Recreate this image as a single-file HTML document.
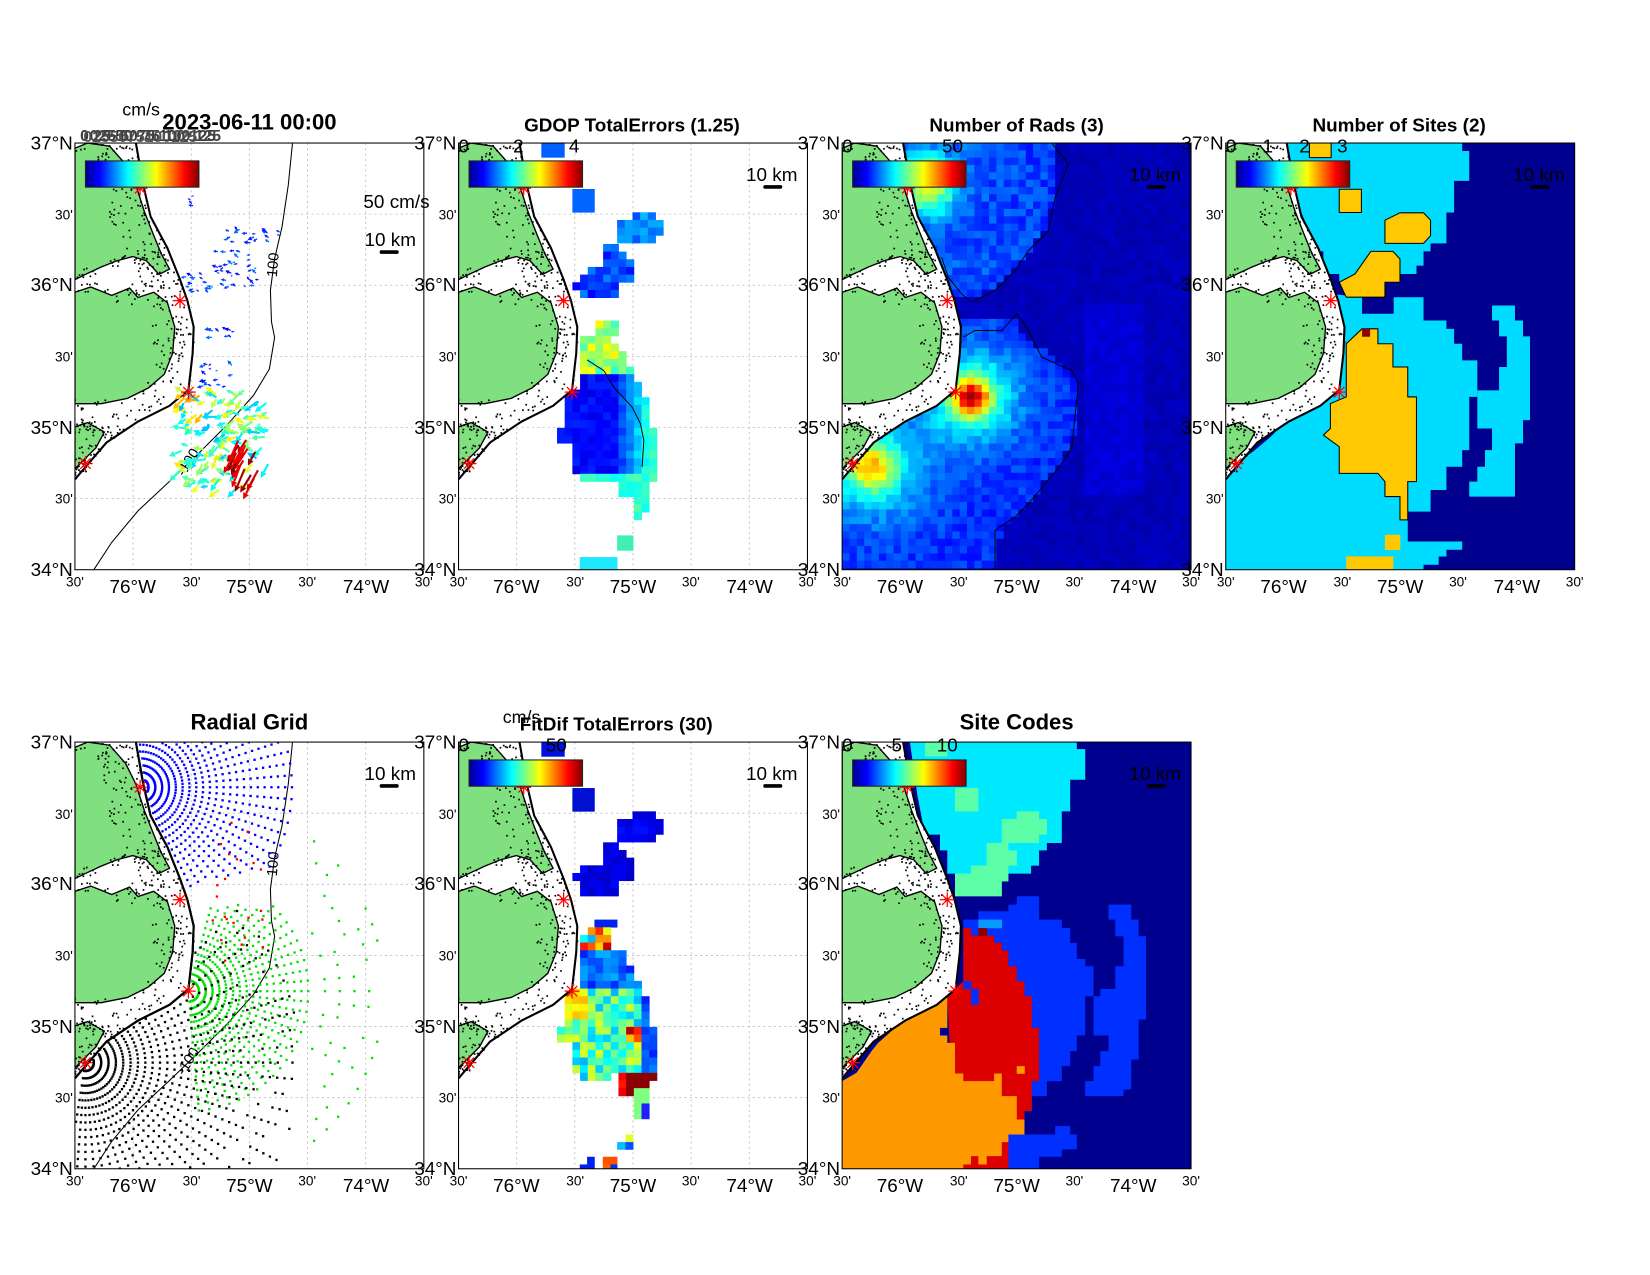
<!DOCTYPE html>
<html><head><meta charset="utf-8"><style>
body{margin:0;background:#fff}svg{display:block}
text{font-family:"Liberation Sans",Arial,sans-serif;fill:#000}
.b{font-size:18px}.s{font-size:13px}.t{font-size:18px;font-weight:bold}.T{font-size:21px;font-weight:bold}
</style></head><body>
<svg id="S" xmlns="http://www.w3.org/2000/svg" width="1650" height="1275" viewBox="-1.3 -1 1570 1213">
<defs>
<linearGradient id="jet" x1="0" x2="1" y1="0" y2="0">
<stop offset="0" stop-color="#00008f"/><stop offset="0.125" stop-color="#0000ff"/><stop offset="0.375" stop-color="#00ffff"/><stop offset="0.625" stop-color="#ffff00"/><stop offset="0.875" stop-color="#ff0000"/><stop offset="1" stop-color="#800000"/>
</linearGradient>
<clipPath id="cp"><rect x="0" y="0" width="332" height="406"/></clipPath>
<g id="ticks">
<text class="b" x="-2" y="6" text-anchor="end">37°N</text>
<text class="s" x="-2" y="73" text-anchor="end">30'</text>
<text class="b" x="-2" y="141" text-anchor="end">36°N</text>
<text class="s" x="-2" y="208" text-anchor="end">30'</text>
<text class="b" x="-2" y="277" text-anchor="end">35°N</text>
<text class="s" x="-2" y="343" text-anchor="end">30'</text>
<text class="b" x="-2" y="412" text-anchor="end">34°N</text>
<text class="s" x="0" y="422" text-anchor="middle">30'</text>
<text class="b" x="55" y="428" text-anchor="middle">76°W</text>
<text class="s" x="111" y="422" text-anchor="middle">30'</text>
<text class="b" x="166" y="428" text-anchor="middle">75°W</text>
<text class="s" x="221" y="422" text-anchor="middle">30'</text>
<text class="b" x="277" y="428" text-anchor="middle">74°W</text>
<text class="s" x="332" y="422" text-anchor="middle">30'</text>
</g>
</defs>
<rect x="-2" y="-2" width="1575" height="1220" fill="#fff"/>

<g transform="translate(70,135)"><g id="d0" clip-path="url(#cp)"></g><rect width="332" height="406" fill="none" stroke="#000"/><use href="#ticks"/>
<text class="b" x="306" y="62" text-anchor="middle">50 cm/s</text><text class="b" x="300" y="98" text-anchor="middle">10 km</text></g>
<g transform="translate(435,135)"><g id="d1" clip-path="url(#cp)"></g><rect width="332" height="406" fill="none" stroke="#000"/><use href="#ticks"/>
<text class="b" x="298" y="36" text-anchor="middle">10 km</text>
<text class="b" x="5" y="9" text-anchor="middle">0</text><text class="b" x="57" y="9" text-anchor="middle">2</text><text class="b" x="110" y="9" text-anchor="middle">4</text></g>
<g transform="translate(800,135)"><g id="d2" clip-path="url(#cp)"></g><rect width="332" height="406" fill="none" stroke="#000"/><use href="#ticks"/>
<text class="b" x="298" y="36" text-anchor="middle">10 km</text>
<text class="b" x="5" y="9" text-anchor="middle">0</text><text class="b" x="105" y="9" text-anchor="middle">50</text></g>
<g transform="translate(1165,135)"><g id="d3" clip-path="url(#cp)"></g><rect width="332" height="406" fill="none" stroke="#000"/><use href="#ticks"/>
<text class="b" x="298" y="36" text-anchor="middle">10 km</text>
<text class="b" x="5" y="9" text-anchor="middle">0</text><text class="b" x="40" y="9" text-anchor="middle">1</text><text class="b" x="75" y="9" text-anchor="middle">2</text><text class="b" x="111" y="9" text-anchor="middle">3</text></g>
<g transform="translate(70,705)"><g id="d4" clip-path="url(#cp)"></g><rect width="332" height="406" fill="none" stroke="#000"/><use href="#ticks"/>
<text class="b" x="300" y="36" text-anchor="middle">10 km</text></g>
<g transform="translate(435,705)"><g id="d5" clip-path="url(#cp)"></g><rect width="332" height="406" fill="none" stroke="#000"/><use href="#ticks"/>
<text class="b" x="298" y="36" text-anchor="middle">10 km</text>
<text class="b" x="5" y="9" text-anchor="middle">0</text><text class="b" x="93" y="9" text-anchor="middle">50</text></g>
<g transform="translate(800,705)"><g id="d6" clip-path="url(#cp)"></g><rect width="332" height="406" fill="none" stroke="#000"/><use href="#ticks"/>
<text class="b" x="298" y="36" text-anchor="middle">10 km</text>
<text class="b" x="5" y="9" text-anchor="middle">0</text><text class="b" x="52" y="9" text-anchor="middle">5</text><text class="b" x="100" y="9" text-anchor="middle">10</text></g>

<text x="133" y="109" style="font-size:17px" text-anchor="middle">cm/s</text>
<g style="font-size:15px;font-weight:bold">
<text x="75" y="133" style="fill:#3a3a3a">0 25 50 75 100 125</text>
<text x="78" y="134" style="fill:#555">0255075100125</text>
<text x="84" y="133" style="fill:#444">025 50 75 100 125</text>
</g>
<text class="T" x="236" y="122" text-anchor="middle">2023-06-11 00:00</text>
<text class="t" x="600" y="124" text-anchor="middle">GDOP TotalErrors (1.25)</text>
<text class="t" x="966" y="124" text-anchor="middle">Number of Rads (3)</text>
<text class="t" x="1330" y="124" text-anchor="middle">Number of Sites (2)</text>
<text class="T" x="236" y="693" text-anchor="middle">Radial Grid</text>
<text x="495" y="687" style="font-size:17px" text-anchor="middle">cm/s</text>
<text class="t" x="585" y="694" text-anchor="middle">FitDif TotalErrors (30)</text>
<text class="T" x="966" y="693" text-anchor="middle">Site Codes</text>
</svg>
<script>
const NS="http://www.w3.org/2000/svg";
function E(t,a,p){const e=document.createElementNS(NS,t);for(const k in a)e.setAttribute(k,a[k]);p.appendChild(e);return e;}
let sd=12345;function R(){sd=(sd*16807)%2147483647;return sd/2147483647;}
function cl(v){return Math.max(0,Math.min(1,v));}
function jet(t){t=cl(t);const r=cl(1.5-Math.abs(4*t-3)),g=cl(1.5-Math.abs(4*t-2)),b=cl(1.5-Math.abs(4*t-1));return "rgb("+(r*255|0)+","+(g*255|0)+","+(b*255|0)+")";}
const CO=[[0,58],[40,65],[70,72],[100,88],[130,100],[150,107],[175,113],[200,112],[235,108],[250,90],[265,60],[285,30],[320,0],[406,-5]];
function cx(y){for(let i=0;i<CO.length-1;i++){const a=CO[i][0],xa=CO[i][1],b=CO[i+1][0],xb=CO[i+1][1];if(y>=a&&y<=b)return xa+(xb-xa)*(y-a)/(b-a);}return -5;}
function pts(a){return a.map(p=>p[0].toFixed(1)+","+p[1].toFixed(1)).join(" ");}
function pip(x,y,P){let c=false;for(let i=0,j=P.length-1;i<P.length;j=i++){const xi=P[i][0],yi=P[i][1],xj=P[j][0],yj=P[j][1];if(((yi>y)!=(yj>y))&&(x<(xj-xi)*(y-yi)/(yj-yi)+xi))c=!c;}return c;}
const MASK=[[0,0]].concat(CO.slice(0,13).map(p=>[p[1],p[0]]));
const GA=[[0,5],[12,0],[33,3],[48,20],[58,40],[66,65],[75,88],[82,105],[90,120],[80,125],[68,112],[55,108],[40,112],[25,118],[10,125],[0,130]];
const GB=[[0,142],[15,137],[35,145],[52,138],[60,147],[75,142],[88,152],[95,175],[93,200],[85,220],[70,233],[50,243],[25,248],[0,248]];
const GC=[[0,270],[12,266],[28,275],[20,290],[5,305],[0,310]];
const BATH=[[207,0],[203,40],[197,80],[190,110],[186,140],[187,170],[190,185],[185,215],[170,240],[145,268],[118,295],[90,322],[60,350],[35,380],[18,406]];
const SITES=[[62,43],[100,150],[108,237],[10,305]];
function grid(g){for(let i=1;i<6;i++){const x=i*332/6;E('line',{x1:x,y1:0,x2:x,y2:406,stroke:'#bbb','stroke-dasharray':'2 3','stroke-width':0.8},g);const y=i*406/6;E('line',{x1:0,y1:y,x2:332,y2:y,stroke:'#bbb','stroke-dasharray':'2 3','stroke-width':0.8},g);}}
function land(g){
 E('polygon',{points:pts(MASK),fill:'#fff'},g);
 for(const P of [GA,GB,GC])E('polygon',{points:pts(P),fill:'#80e080',stroke:'#000','stroke-width':1.3},g);
 sd=999;for(let i=0;i<260;i++){const y=R()*320;const x=cx(y)-R()*40;if(x>0)E('rect',{x:x,y:y,width:1.6,height:1.6,fill:'#000'},g);}
 for(let i=0;i<200;i++){const P=[GA,GB,GC][i%3];const k=Math.floor(R()*P.length);const p=P[k];E('rect',{x:p[0]+(R()-0.5)*14,y:p[1]+(R()-0.5)*14,width:1.6,height:1.6,fill:'#000'},g);}
 E('polyline',{points:pts(CO.slice(0,13).map(p=>[p[1],p[0]])),fill:'none',stroke:'#000','stroke-width':2},g);
}
function stars(g){for(const s of SITES){for(let a=0;a<4;a++){const an=a*Math.PI/4;E('line',{x1:s[0]-7*Math.cos(an),y1:s[1]-7*Math.sin(an),x2:s[0]+7*Math.cos(an),y2:s[1]+7*Math.sin(an),stroke:'#f00','stroke-width':1.2},g);}}}
function cbar(g){E('rect',{x:10,y:17,width:108,height:25,fill:'url(#jet)',stroke:'#222','stroke-width':1},g);E('rect',{x:290,y:102,width:18,height:3.5,rx:1.5,fill:'#000'},g);}
function cbar2(g){E('rect',{x:10,y:17,width:108,height:25,fill:'url(#jet)',stroke:'#222','stroke-width':1},g);E('rect',{x:290,y:40,width:18,height:3.5,rx:1.5,fill:'#000'},g);}
function bath(g){E('polyline',{points:pts(BATH),fill:'none',stroke:'#000','stroke-width':1},g);
 const t1=E('text',{x:0,y:0,transform:'translate(192,128) rotate(-85)',style:'font-size:14px'},g);t1.textContent='100';
 const t2=E('text',{x:0,y:0,transform:'translate(104,318) rotate(-58)',style:'font-size:14px'},g);t2.textContent='-100';}
function Zm(m){return (zx,zy)=>[(zx-m[0])*332/(m[1]-m[0]),(zy-m[2])*406/(m[3]-m[2])];}
function polyZ(g,m,P,fill,stroke){const f=Zm(m);const a={points:pts(P.map(p=>f(p[0],p[1]))),fill:fill};if(stroke){a.stroke=stroke;a['stroke-width']=1;}E('polygon',a,g);}
function rectZ(g,m,r,fill){const f=Zm(m);const a=f(r[0],r[1]),b=f(r[2],r[3]);E('rect',{x:a[0],y:a[1],width:b[0]-a[0]+0.3,height:b[1]-a[1]+0.3,fill:fill},g);}
function cellsZ(g,m,P,cs,fn){const f=Zm(m);let x0=1e9,x1=-1e9,y0=1e9,y1=-1e9;for(const p of P){x0=Math.min(x0,p[0]);x1=Math.max(x1,p[0]);y0=Math.min(y0,p[1]);y1=Math.max(y1,p[1]);}
 for(let y=y0;y<y1;y+=cs)for(let x=x0;x<x1;x+=cs){if(!pip(x+cs/2,y+cs/2,P))continue;const a=f(x,y),b=f(x+cs,y+cs);E('rect',{x:a[0],y:a[1],width:b[0]-a[0]+0.4,height:b[1]-a[1]+0.4,fill:fn(x+cs/2,y+cs/2)},g);}}
const $=id=>document.getElementById(id);

// Panel 0: vectors
(function(){const g=$('d0');grid(g);land(g);bath(g);
 function arrow(x,y,dx,dy,c,w){const L=Math.hypot(dx,dy)||1;const ux=dx/L,uy=dy/L;const hl=Math.min(6,L*0.6);const bx=x+dx-ux*hl,by=y+dy-uy*hl;
  E('line',{x1:x,y1:y,x2:bx,y2:by,stroke:c,'stroke-width':w},g);
  E('polygon',{points:pts([[x+dx,y+dy],[bx-uy*hl*0.5,by+ux*hl*0.5],[bx+uy*hl*0.5,by-ux*hl*0.5]]),fill:c},g);}
 sd=42;
 const small=[[110,48,12,12],[145,82,50,14],[135,102,40,35],[105,125,30,22],[125,175,30,12],[120,210,30,22]];
 for(const b of small){for(let i=0;i<b[2]*b[3]/40;i++){const x=b[0]+R()*b[2],y=b[1]+R()*b[3];const a=Math.PI*(0.8+R()*0.5);const L=2+R()*5;arrow(x,y,L*Math.cos(a),L*Math.sin(a),jet(0.12+R()*0.12),1.2);}}
 for(let i=0;i<140;i++){const x=100+R()*85,y=235+R()*95;if(x>150&&y>285&&R()<0.5)continue;const a=Math.PI*(0.6+R()*0.6);const L=7+R()*9;let t=0.3+R()*0.35;if(y<265&&x<130&&R()<0.4)t=0.65+R()*0.1;arrow(x,y,L*Math.cos(a),L*Math.sin(a),jet(t),2);}
 for(let i=0;i<18;i++){const x=150+R()*28,y=280+R()*40;const a=Math.PI*(0.6+R()*0.1);const L=14+R()*10;arrow(x,y,L*Math.cos(a),L*Math.sin(a),jet(0.88+R()*0.12),2);}
 stars(g);cbar(g);
})();

// Panel 1: GDOP
(function(){const g=$('d1');grid(g);const m=[55,1100,37,1318];sd=7;
 rectZ(g,m,[303,37,372,80],'#0060ff');rectZ(g,m,[396,175,462,245],'#0066ff');
 cellsZ(g,m,[[530,268],[578,268],[578,245],[645,245],[645,268],[668,268],[668,315],[645,315],[645,340],[530,340]],23,()=>jet(0.2+R()*0.12));
 cellsZ(g,m,[[487,340],[530,340],[530,362],[555,362],[555,385],[578,385],[578,455],[530,455],[530,500],[418,500],[418,478],[396,478],[396,455],[418,455],[418,432],[440,432],[440,408],[487,408]],23,()=>jet(0.12+R()*0.14));
 cellsZ(g,m,[[462,570],[530,570],[530,620],[510,620],[510,640],[530,640],[530,665],[555,665],[555,710],[578,710],[578,755],[600,755],[600,800],[623,800],[623,895],[645,895],[645,1050],[623,1050],[623,1075],[623,1100],[623,1145],[600,1145],[600,1168],[578,1168],[578,1100],[530,1100],[530,1050],[418,1050],[396,1005],[396,940],[350,940],[350,895],[372,895],[372,780],[418,780],[418,620],[462,620]],23,(x,y)=>{
  if(y<735){return jet(0.4+R()*0.25);}
  if(y>1030)return jet(0.38+R()*0.08);
  const e=cl((x-520)/110);return jet(0.1+R()*0.06+e*0.3);});
 rectZ(g,m,[530,1215,578,1260],'#40f0b0');rectZ(g,m,[418,1280,530,1318],'#20e8ff');
 E('polyline',{points:pts([[440,688],[490,720],[520,770],[575,830],[600,880],[610,930],[605,1010]].map(p=>Zm(m)(p[0],p[1]))),fill:'none',stroke:'#000','stroke-width':0.9},g);
 land(g);stars(g);cbar2(g);
})();

// Panel 2: Number of rads
(function(){const g=$('d2');E('rect',{width:332,height:406,fill:'#00008f'},g);const m=[42,1087,37,1318];sd=21;
 function ip(pp,y){for(let i=0;i<pp.length-1;i++){if(y>=pp[i][0]&&y<=pp[i+1][0])return pp[i][1]+(pp[i+1][1]-pp[i][1])*(y-pp[i][0])/(pp[i+1][0]-pp[i][0]);}return -1;}
 const NE=[[37,670],[200,680],[300,650],[360,600],[420,555],[480,480],[505,420]];
 const SE=[[560,560],[600,560],[700,700],[750,750],[900,740],[1000,700],[1100,610],[1200,520],[1320,500]];
 cellsZ(g,m,[[42,37],[1087,37],[1087,1318],[42,1318]],22,(x,y)=>{
  let t=0.04+R()*0.03;
  if(x>770&&x<950&&y>530&&y<1100)t=0.07+R()*0.03;
  if(y<505&&x<ip(NE,y)){t=0.13+R()*0.1+0.4*Math.exp(-((x-300)**2+(y-160)**2)/(2*60*60))+0.06*(1-x/700);}
  else if(y>=560&&x<ip(SE,y)){const d1=(x-430)**2+(y-800)**2,d2=(x-130)**2+(y-1010)**2;t=0.13+R()*0.08+0.5*Math.exp(-d1/(2*35*35))+0.32*Math.exp(-d1/(2*95*95))+0.35*Math.exp(-d2/(2*50*50))+0.2*Math.exp(-d2/(2*120*120));}
  return jet(t);});
 const f=Zm(m);
 E('polyline',{points:pts([[670,37],[720,100],[700,150],[680,200],[660,300],[600,360],[560,420],[500,480],[430,515],[400,490],[360,440],[340,380]].map(p=>f(p[0],p[1]))),fill:'none',stroke:'#000','stroke-width':0.9},g);
 E('polyline',{points:pts([[405,620],[440,600],[520,600],[565,550],[600,600],[640,680],[730,720],[750,760],[740,850],[730,950],[700,1000],[650,1060],[600,1120],[560,1160],[500,1200],[500,1320]].map(p=>f(p[0],p[1]))),fill:'none',stroke:'#000','stroke-width':0.9},g);
 land(g);stars(g);cbar2(g);
})();

// Panel 3: Number of sites
(function(){const g=$('d3');E('rect',{width:332,height:406,fill:'#00008f'},g);const m=[362,1355,186,1470];const C='#00dcff',Y='#ffc800';
 polyZ(g,m,[[520,186],[1035,186],[1035,210],[1055,210],[1055,300],[1012,300],[1012,395],[990,395],[990,488],[945,488],[945,512],[925,512],[925,555],[905,555],[905,580],[858,580],[858,605],[815,605],[815,650],[705,650],[705,605],[685,605],[685,580],[640,580],[640,512],[620,512],[610,480],[560,350]],C);
 polyZ(g,m,[[665,640],[750,650],[750,700],[840,700],[840,650],[925,650],[925,720],[990,720],[990,745],[1012,745],[1012,790],[1035,790],[1035,840],[1078,840],[1078,950],[1055,950],[1055,1110],[1035,1110],[1035,1160],[990,1160],[990,1230],[945,1230],[945,1295],[880,1295],[880,1385],[1035,1385],[1035,1410],[990,1410],[990,1430],[968,1430],[968,1455],[925,1455],[925,1470],[355,1470],[355,1180],[445,1110],[490,1070],[555,1000],[600,960],[660,930],[690,900],[690,790]],C);
 polyZ(g,m,[[1120,675],[1185,675],[1185,720],[1208,720],[1208,768],[1228,768],[1228,1020],[1208,1020],[1208,1090],[1185,1090],[1185,1250],[1055,1250],[1055,1205],[1078,1205],[1078,1160],[1100,1160],[1100,1110],[1120,1110],[1120,1045],[1078,1045],[1078,930],[1140,930],[1140,860],[1162,860],[1162,768],[1140,768],[1140,720],[1120,720]],C);
 polyZ(g,m,[[600,186],[662,186],[662,230],[600,230]],Y,'#000');
 polyZ(g,m,[[685,325],[748,325],[748,395],[685,395]],Y,'#000');
 polyZ(g,m,[[815,418],[858,396],[925,396],[945,418],[945,465],[925,488],[815,488]],Y,'#000');
 polyZ(g,m,[[685,605],[730,580],[775,512],[838,512],[858,535],[858,605],[815,605],[815,650],[705,650]],Y,'#000');
 polyZ(g,m,[[705,790],[750,745],[795,745],[795,790],[838,790],[838,860],[880,860],[880,950],[905,950],[905,1205],[880,1205],[880,1320],[858,1320],[858,1250],[815,1250],[815,1205],[795,1180],[685,1180],[685,1100],[640,1065],[660,1045],[660,970],[705,950]],Y,'#000');
 rectZ(g,m,[750,745,772,768],'#900000');
 rectZ(g,m,[815,1365,858,1410],Y);rectZ(g,m,[705,1430,838,1470],Y);
 land(g);stars(g);cbar2(g);
})();

// Panel 4: radial grid
(function(){const g=$('d4');grid(g);land(g);bath(g);
 function arcs(s,col,rmin,rmax,dr,ast,a0,a1,lim){for(let r=rmin;r<=rmax;r+=dr){const st=ast;for(let a=a0;a<=a1;a+=st){const an=a*Math.PI/180;const x=s[0]+r*Math.cos(an),y=s[1]+r*Math.sin(an);if(x<0||y<0||x>332||y>406)continue;if(x<cx(y)+2)continue;if(lim&&!lim(x,y,r))continue;E('rect',{x:x-1.1,y:y-1.1,width:2.2,height:2.2,fill:col},g);}}}
 arcs(SITES[0],'#0000ff',8,150,6.5,4.5,-90,70,(x,y,r)=>y<150-0.25*(x-60)&&x<215);
 arcs(SITES[2],'#00e000',10,120,6.5,5,-75,85,(x,y)=>x<225&&y>155);
 arcs(SITES[2],'#00e000',130,195,14,5,-60,60,(x,y)=>x<290&&x>225&&R()<0.7);
 arcs(SITES[3],'#000',8,210,7,4.5,-45,100,(x,y,r)=>x<210&&(r<150||R()<0.6));
 sd=5;for(let i=0;i<22;i++){E('rect',{x:130+R()*50,y:70+R()*150,width:2.2,height:2.2,fill:'#f00'},g);}
 E('polyline',{points:pts(CO.slice(0,13).map(p=>[p[1],p[0]])),fill:'none',stroke:'#000','stroke-width':2},g);
 stars(g);E('rect',{x:290,y:40,width:18,height:3.5,rx:1.5,fill:'#000'},g);
})();

// Panel 5: FitDif
(function(){const g=$('d5');grid(g);const m=[55,1100,67,1348];sd=77;
 rectZ(g,m,[303,67,372,110],'#0010e0');rectZ(g,m,[396,205,462,275],'#0010d0');
 cellsZ(g,m,[[578,275],[645,275],[645,298],[668,298],[668,345],[645,345],[645,368],[530,368],[530,298],[578,298]],23,()=>jet(0.08+R()*0.06));
 cellsZ(g,m,[[487,368],[530,368],[530,392],[555,392],[555,415],[578,415],[578,485],[530,485],[530,530],[418,530],[418,485],[396,485],[396,462],[418,462],[418,438],[487,438]],23,()=>jet(0.07+R()*0.06));
 rectZ(g,m,[462,600,530,623],'#0020f0');
 cellsZ(g,m,[[440,623],[510,623],[510,693],[555,693],[555,740],[578,740],[578,785],[600,785],[600,830],[623,830],[623,925],[645,925],[645,1085],[623,1085],[623,1200],[578,1200],[578,1130],[530,1130],[530,1062],[510,1062],[510,1085],[418,1085],[396,1040],[396,970],[372,970],[350,945],[350,925],[372,925],[372,808],[418,808],[418,740],[418,650],[440,650]],23,(x,y)=>{
  if(y>1062&&x>555)return (y>1110&&x>578)?(R()<0.5?'#2020ff':'#80ff80'):'#8b0000';
  if(y>1062&&x>530)return jet(0.8+R()*0.15);
  if(y<700)return jet(0.3+R()*0.65);
  if(y<800)return jet(0.15+R()*0.15);
  if(x<440&&y<900)return jet(0.6+R()*0.15);
  if(Math.hypot(x-580,y-945)<35)return jet(0.65+R()*0.3);
  if(x>600)return jet(0.15+R()*0.15);
  return jet(0.3+R()*0.3);});
 rectZ(g,m,[555,1245,578,1268],'#e0ff30');rectZ(g,m,[530,1268,555,1290],'#00c0ff');rectZ(g,m,[555,1268,578,1290],'#0050ff');
 rectZ(g,m,[440,1312,462,1348],'#0020f0');rectZ(g,m,[487,1312,530,1335],'#ff5000');rectZ(g,m,[418,1335,440,1348],'#0020f0');rectZ(g,m,[487,1335,510,1348],'#ff6000');rectZ(g,m,[510,1335,530,1348],'#0030ff');
 land(g);stars(g);cbar2(g);
})();

// Panel 6: site codes
(function(){const g=$('d6');E('rect',{width:332,height:406,fill:'#00008f'},g);const m=[42,1087,67,1348];const B='#0030ff';
 polyZ(g,m,[[245,67],[745,67],[745,88],[770,88],[770,180],[725,180],[725,275],[700,275],[700,370],[655,370],[655,392],[632,392],[632,438],[608,438],[608,462],[540,462],[540,485],[520,485],[520,530],[380,530],[380,462],[357,462],[357,392],[335,392],[335,345],[290,345],[268,230]],'#00eaff');
 const LG='#5cffa8';
 polyZ(g,m,[[290,67],[357,67],[357,110],[290,110]],LG);polyZ(g,m,[[380,205],[450,205],[450,275],[380,275]],LG);
 polyZ(g,m,[[520,298],[565,298],[565,275],[632,275],[632,298],[655,298],[655,345],[632,345],[632,370],[540,370],[540,392],[565,392],[565,438],[540,438],[540,485],[520,485],[520,530],[380,530],[380,462],[428,462],[428,438],[475,438],[475,370],[520,370]],LG);
 polyZ(g,m,[[405,600],[450,600],[450,575],[540,575],[540,555],[565,555],[565,530],[632,530],[632,600],[700,600],[700,625],[725,625],[725,670],[745,670],[745,718],[770,718],[770,740],[795,740],[795,830],[770,830],[770,948],[745,948],[745,995],[725,995],[725,1040],[700,1040],[700,1085],[655,1085],[655,1130],[610,1130],[610,1175],[588,1175],[588,1348],[405,1348]],B);
 polyZ(g,m,[[540,1245],[680,1245],[680,1220],[725,1220],[725,1245],[745,1245],[745,1290],[700,1290],[700,1312],[632,1312],[632,1348],[520,1348],[520,1300],[540,1300]],B);
 polyZ(g,m,[[840,555],[908,555],[908,600],[930,600],[930,650],[952,650],[952,900],[930,900],[930,1020],[908,1020],[908,1110],[885,1110],[885,1130],[770,1130],[770,1085],[795,1085],[795,1040],[815,1040],[815,995],[840,995],[840,948],[795,948],[795,830],[815,830],[815,808],[860,808],[860,740],[885,740],[885,650],[860,650],[860,600],[840,600]],B);
 rectZ(g,m,[450,600,520,625],'#0a9aff');
 polyZ(g,m,[[405,625],[428,625],[428,648],[497,648],[497,670],[520,670],[520,693],[540,693],[540,740],[565,740],[565,785],[588,785],[588,830],[610,830],[610,925],[632,925],[632,1085],[610,1085],[610,1175],[588,1175],[588,1200],[540,1200],[540,1348],[405,1348],[380,1310],[357,830],[405,785]],'#dd0000');
 rectZ(g,m,[450,625,475,648],'#900000');rectZ(g,m,[405,785,428,808],B);rectZ(g,m,[428,808,450,855],B);
 polyZ(g,m,[[42,1348],[42,1085],[85,1060],[130,995],[150,970],[175,948],[200,925],[220,900],[245,878],[290,855],[312,830],[357,830],[357,925],[335,925],[335,948],[357,948],[357,970],[380,970],[380,1062],[405,1062],[405,1085],[497,1085],[497,1062],[520,1062],[520,1130],[565,1130],[565,1200],[588,1200],[588,1245],[540,1245],[540,1268],[520,1268],[520,1310],[475,1310],[475,1335],[450,1335],[450,1310],[428,1310],[428,1335],[405,1335],[405,1348]],'#ff9900');
 rectZ(g,m,[565,1040,588,1062],'#ff9900');
 land(g);stars(g);cbar2(g);
})();
</script>
</body></html>
